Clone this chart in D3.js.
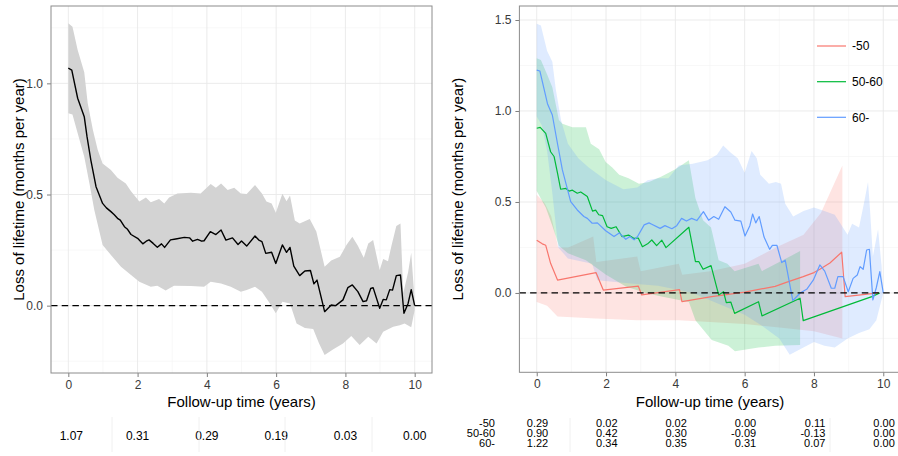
<!DOCTYPE html>
<html>
<head>
<meta charset="utf-8">
<script src="https://cdn.jsdelivr.net/npm/d3@7"></script>
<style>
    body { margin: 0; background: #fff; }
    svg text { font-family: "Liberation Sans", Arial, sans-serif; }
</style>
</head>
<body>
<svg id="chart" width="898" height="456"></svg>
<script>

// ---- data ----
const timeTicks = [0, 2, 4, 6, 8, 10];
const groups = ['-50', '50-60', '60-'];
const groupColors = ['#F8766D', '#00BA38', '#619CFF'];

// overall loss of lifetime, [time, value]
const allEst = [[0,1.068],[0.1,1.06],[0.27,0.933],[0.46,0.85],[0.54,0.76],[0.65,0.655],[0.8,0.535],[0.99,0.46],[1.1,0.44],[1.23,0.423],[1.32,0.41],[1.42,0.393],[1.5,0.385],[1.62,0.355],[1.7,0.345],[1.81,0.32],[2.0,0.303],[2.15,0.278],[2.25,0.29],[2.33,0.296],[2.45,0.28],[2.57,0.263],[2.69,0.278],[2.78,0.262],[2.95,0.296],[3.1,0.3],[3.35,0.307],[3.5,0.305],[3.59,0.29],[3.73,0.298],[3.85,0.29],[3.92,0.292],[4.1,0.333],[4.26,0.32],[4.41,0.34],[4.55,0.295],[4.74,0.305],[4.9,0.275],[5.0,0.291],[5.15,0.268],[5.39,0.313],[5.5,0.295],[5.59,0.288],[5.7,0.235],[5.87,0.24],[5.99,0.19],[6.18,0.273],[6.3,0.24],[6.4,0.262],[6.51,0.178],[6.68,0.135],[6.83,0.156],[6.99,0.158],[7.09,0.098],[7.18,0.115],[7.4,-0.027],[7.59,0.003],[7.72,0.0],[7.93,0.026],[8.07,0.081],[8.2,0.093],[8.36,0.063],[8.51,0.018],[8.61,0.022],[8.73,0.077],[8.8,0.081],[8.99,-0.012],[9.09,0.028],[9.18,0.026],[9.28,0.072],[9.36,0.07],[9.47,0.135],[9.59,0.138],[9.69,-0.034],[9.81,0.01],[9.9,0.072],[10.0,0.0]];
const allHi = [[0,1.27],[0.12,1.255],[0.27,1.15],[0.46,1.05],[0.56,0.91],[0.71,0.79],[0.85,0.7],[0.99,0.64],[1.23,0.61],[1.42,0.575],[1.66,0.55],[1.81,0.515],[2.05,0.468],[2.24,0.487],[2.38,0.465],[2.62,0.48],[2.77,0.46],[2.91,0.487],[3.15,0.505],[3.54,0.508],[3.82,0.505],[4.11,0.547],[4.26,0.53],[4.41,0.55],[4.6,0.52],[4.79,0.53],[4.98,0.505],[5.15,0.502],[5.39,0.543],[5.59,0.505],[5.72,0.468],[5.87,0.46],[5.99,0.418],[6.18,0.503],[6.3,0.47],[6.4,0.495],[6.54,0.383],[6.68,0.37],[6.97,0.39],[7.16,0.333],[7.4,0.175],[7.59,0.203],[7.84,0.22],[8.03,0.273],[8.2,0.31],[8.36,0.27],[8.53,0.215],[8.66,0.28],[8.8,0.295],[8.99,0.16],[9.09,0.21],[9.23,0.2],[9.33,0.27],[9.47,0.358],[9.59,0.37],[9.67,0.056],[9.81,0.15],[9.9,0.238],[10.0,0.02]];
const allLo = [[0,0.865],[0.12,0.86],[0.27,0.775],[0.46,0.67],[0.61,0.55],[0.75,0.43],[0.99,0.273],[1.23,0.228],[1.52,0.175],[1.81,0.138],[2.05,0.108],[2.38,0.085],[2.57,0.09],[2.81,0.068],[3.05,0.09],[3.54,0.088],[3.92,0.085],[4.11,0.108],[4.41,0.1],[4.69,0.085],[4.98,0.063],[5.15,0.07],[5.39,0.085],[5.59,0.063],[5.82,0.01],[5.99,-0.034],[6.18,0.018],[6.4,0.01],[6.59,-0.08],[6.83,-0.1],[7.07,-0.105],[7.24,-0.17],[7.4,-0.222],[7.64,-0.197],[7.93,-0.17],[8.17,-0.136],[8.41,-0.177],[8.66,-0.14],[8.9,-0.17],[9.09,-0.117],[9.38,-0.095],[9.57,-0.088],[9.71,-0.08],[9.9,-0.097],[10.0,-0.02]];

// by age group
const estU50 = [[0,0.29],[0.16,0.27],[0.26,0.262],[0.4,0.163],[0.6,0.071],[1.71,0.112],[1.92,0.016],[2.93,0.038],[3.03,-0.011],[4.12,0.018],[4.19,-0.048],[5.05,-0.02],[6.0,0.005],[6.88,0.036],[7.2,0.058],[7.69,0.09],[8.0,0.112],[8.17,0.13],[8.46,0.165],[8.8,0.224],[8.9,-0.02],[9.86,0.0]];
const hiU50 = [[0,0.54],[0.1,0.52],[0.24,0.49],[0.42,0.42],[0.62,0.25],[0.91,0.25],[1.63,0.31],[1.72,0.17],[2.9,0.2],[3.0,0.12],[4.1,0.16],[4.2,0.1],[5.0,0.12],[6.0,0.16],[6.9,0.25],[7.7,0.32],[8.2,0.44],[8.82,0.7]];
const loU50 = [[0,-0.05],[0.3,-0.07],[0.6,-0.13],[1.7,-0.14],[2.9,-0.15],[4.1,-0.15],[5.0,-0.16],[6.0,-0.17],[7.0,-0.19],[8.0,-0.21],[8.82,-0.25]];

const est5060 = [[0,0.905],[0.1,0.91],[0.26,0.877],[0.4,0.776],[0.5,0.75],[0.6,0.658],[0.69,0.57],[0.84,0.575],[0.93,0.56],[1.03,0.565],[1.17,0.548],[1.27,0.555],[1.46,0.53],[1.61,0.45],[1.7,0.455],[1.79,0.43],[1.9,0.425],[2.03,0.364],[2.15,0.355],[2.29,0.364],[2.46,0.31],[2.65,0.318],[2.8,0.3],[2.93,0.302],[3.05,0.254],[3.2,0.27],[3.32,0.291],[3.46,0.26],[3.61,0.29],[3.73,0.249],[4.39,0.361],[4.58,0.172],[4.68,0.172],[4.8,0.13],[5.03,0.15],[5.25,-0.011],[5.39,0.007],[5.47,-0.053],[5.6,-0.05],[5.71,-0.112],[6.4,-0.048],[6.5,-0.126],[7.6,-0.029],[7.69,-0.152],[9.67,-0.02],[9.9,0.0]];
const hi5060 = [[0,1.29],[0.12,1.28],[0.3,1.2],[0.45,1.13],[0.64,0.95],[0.74,0.93],[1.03,0.91],[1.42,0.91],[1.56,0.82],[1.8,0.79],[1.99,0.72],[2.18,0.69],[2.38,0.65],[2.65,0.63],[2.95,0.6],[3.24,0.61],[3.6,0.64],[4.0,0.68],[4.39,0.73],[4.58,0.52],[4.8,0.4],[5.03,0.36],[5.25,0.18],[5.5,0.16],[5.71,0.12],[6.4,0.16],[6.5,0.12],[7.0,0.17],[7.6,0.23]];
const lo5060 = [[0,0.56],[0.26,0.47],[0.45,0.37],[0.64,0.26],[0.9,0.218],[1.42,0.18],[2.0,0.1],[2.57,0.035],[3.15,0.0],[3.6,-0.02],[4.39,-0.05],[4.58,-0.15],[5.05,-0.258],[5.53,-0.29],[5.72,-0.32],[6.4,-0.3],[6.88,-0.29],[7.6,-0.286]];

const est60 = [[0,1.225],[0.09,1.22],[0.31,1.04],[0.45,0.978],[0.6,0.82],[0.74,0.676],[0.98,0.502],[1.17,0.456],[1.36,0.42],[1.46,0.41],[1.6,0.383],[1.75,0.385],[1.99,0.342],[2.23,0.31],[2.38,0.33],[2.57,0.295],[2.69,0.31],[2.81,0.292],[2.91,0.31],[3.1,0.374],[3.24,0.385],[3.32,0.378],[3.56,0.355],[3.7,0.37],[3.9,0.353],[4.04,0.37],[4.18,0.41],[4.32,0.395],[4.47,0.41],[4.62,0.398],[4.81,0.447],[4.96,0.4],[5.11,0.42],[5.25,0.405],[5.43,0.474],[5.6,0.445],[5.72,0.4],[5.89,0.395],[6.01,0.313],[6.15,0.37],[6.23,0.434],[6.32,0.385],[6.42,0.42],[6.56,0.307],[6.72,0.24],[6.8,0.262],[6.93,0.262],[7.07,0.167],[7.17,0.18],[7.39,-0.042],[7.6,0.0],[7.79,0.02],[7.98,0.07],[8.17,0.154],[8.31,0.12],[8.5,0.026],[8.6,0.026],[8.69,0.09],[8.84,0.09],[8.99,0.007],[9.13,0.08],[9.25,0.099],[9.33,0.145],[9.42,0.13],[9.52,0.236],[9.6,0.24],[9.7,-0.038],[9.8,0.03],[9.9,0.117],[10.0,0.0]];
const hi60 = [[0,1.48],[0.12,1.47],[0.3,1.33],[0.45,1.27],[0.55,1.12],[0.7,0.95],[0.9,0.82],[1.2,0.74],[1.5,0.69],[2.0,0.62],[2.5,0.57],[2.9,0.58],[3.2,0.62],[3.5,0.63],[3.8,0.63],[4.1,0.7],[4.5,0.71],[4.93,0.73],[5.2,0.76],[5.38,0.81],[5.6,0.77],[5.8,0.74],[6.0,0.66],[6.2,0.78],[6.35,0.74],[6.45,0.65],[6.7,0.6],[6.9,0.61],[7.05,0.6],[7.17,0.49],[7.4,0.42],[7.7,0.45],[8.0,0.47],[8.3,0.45],[8.6,0.43],[8.97,0.32],[9.1,0.38],[9.3,0.36],[9.45,0.5],[9.56,0.61],[9.62,0.45],[9.7,0.2],[9.85,0.35],[9.95,0.15],[10.0,0.0]];
const lo60 = [[0,0.97],[0.15,0.92],[0.3,0.78],[0.45,0.55],[0.62,0.25],[0.9,0.19],[1.6,0.16],[1.75,0.07],[2.8,0.05],[3.5,0.04],[4.0,0.02],[4.5,0.0],[5.0,-0.04],[5.5,-0.08],[6.0,-0.12],[6.5,-0.18],[7.0,-0.25],[7.3,-0.34],[7.6,-0.31],[8.0,-0.27],[8.3,-0.29],[8.6,-0.3],[8.97,-0.25],[9.3,-0.22],[9.6,-0.2],[9.8,-0.15],[10.0,0.0]];

// values printed under the x axis
const tableAll = ['1.07', '0.31', '0.29', '0.19', '0.03', '0.00'];
const tableU50 = ['0.29', '0.02', '0.02', '0.00', '0.11', '0.00'];
const table5060 = ['0.90', '0.42', '0.30', '-0.09', '-0.13', '0.00'];
const table60 = ['1.22', '0.34', '0.35', '0.31', '0.07', '0.00'];

const yTitle = 'Loss of lifetime (months per year)';
const xTitle = 'Follow-up time (years)';


const svg = d3.select('#chart');

function drawPanel(opt) {
    const x = d3.scaleLinear().domain([-0.5, 10.5]).range([opt.left, opt.right]);
    const y = d3.scaleLinear().domain(opt.yDomain).range([opt.bottom, opt.top]);
    const g = svg.append('g');

    g.append('rect')
        .attr('x', opt.left).attr('y', opt.top)
        .attr('width', opt.right - opt.left).attr('height', opt.bottom - opt.top)
        .attr('fill', '#fff');

    // minor grid
    g.selectAll('.minx').data([1, 3, 5, 7, 9]).enter().append('line')
        .attr('x1', d => x(d)).attr('x2', d => x(d))
        .attr('y1', opt.top).attr('y2', opt.bottom)
        .attr('stroke', '#f4f4f4').attr('stroke-width', 0.6);
    g.selectAll('.miny').data(opt.yMinor).enter().append('line')
        .attr('y1', d => y(d)).attr('y2', d => y(d))
        .attr('x1', opt.left).attr('x2', opt.right)
        .attr('stroke', '#f4f4f4').attr('stroke-width', 0.6);
    // major grid
    g.selectAll('.majx').data(timeTicks).enter().append('line')
        .attr('x1', d => x(d)).attr('x2', d => x(d))
        .attr('y1', opt.top).attr('y2', opt.bottom)
        .attr('stroke', '#e9e9e9').attr('stroke-width', 0.9);
    g.selectAll('.majy').data(opt.yTicks).enter().append('line')
        .attr('y1', d => y(d)).attr('y2', d => y(d))
        .attr('x1', opt.left).attr('x2', opt.right)
        .attr('stroke', '#e9e9e9').attr('stroke-width', 0.9);

    // axes
    const gx = g.append('g')
        .attr('transform', `translate(0, ${opt.bottom})`)
        .call(d3.axisBottom(x).tickValues(timeTicks).tickSize(4).tickPadding(3.5).tickFormat(d3.format('d')));
    const gy = g.append('g')
        .attr('transform', `translate(${opt.left}, 0)`)
        .call(d3.axisLeft(y).tickValues(opt.yTicks).tickSize(4).tickPadding(4).tickFormat(d3.format('.1f')));
    [gx, gy].forEach(a => {
        a.select('.domain').remove();
        a.selectAll('line').attr('stroke', '#7f7f7f');
        a.selectAll('text').attr('fill', '#3a3a3a')
            .style('font-size', '12px')
            .style('font-family', '"Liberation Sans", Arial, sans-serif');
    });

    // titles
    g.append('text')
        .attr('x', (opt.left + x(10.5)) / 2).attr('y', 406.5)
        .attr('text-anchor', 'middle').attr('font-size', 15).attr('fill', '#000')
        .text(xTitle);
    g.append('text')
        .attr('transform', `translate(${opt.yTitleX}, ${(opt.top + opt.bottom) / 2}) rotate(-90)`)
        .attr('text-anchor', 'middle').attr('font-size', 15).attr('fill', '#000')
        .text(yTitle);

    return { x, y, g };
}

function ribbon(p, hi, lo, fill, opacity) {
    const pts = hi.concat(lo.slice().reverse());
    p.g.append('path')
        .attr('d', d3.line().x(d => p.x(d[0])).y(d => p.y(d[1])).curve(d3.curveLinearClosed)(pts))
        .attr('fill', fill).attr('fill-opacity', opacity).attr('stroke', 'none');
}

function estLine(p, est, color, width) {
    p.g.append('path')
        .attr('d', d3.line().x(d => p.x(d[0])).y(d => p.y(d[1]))(est))
        .attr('fill', 'none').attr('stroke', color).attr('stroke-width', width)
        .attr('stroke-linejoin', 'round');
}

function zeroLine(p, x0, x1) {
    p.g.append('line')
        .attr('x1', x0).attr('x2', x1)
        .attr('y1', p.y(0)).attr('y2', p.y(0))
        .attr('stroke', '#000').attr('stroke-width', 1.2)
        .attr('stroke-dasharray', '6.5,4.2');
}

function border(opt) {
    svg.append('rect')
        .attr('x', opt.left).attr('y', opt.top)
        .attr('width', opt.right - opt.left).attr('height', opt.bottom - opt.top)
        .attr('fill', 'none').attr('stroke', '#8c8c8c').attr('stroke-width', 1);
}

// ---- left panel: all patients ----
const leftOpt = {
    left: 51, right: 432, top: 6, bottom: 373,
    yDomain: [-0.303, 1.348], yTicks: [0, 0.5, 1.0], yMinor: [-0.25, 0.25, 0.75, 1.25],
    yTitleX: 23.5
};
const pl = drawPanel(leftOpt);
ribbon(pl, allHi, allLo, '#d3d3d3', 1);
estLine(pl, allEst, '#000', 1.4);
zeroLine(pl, leftOpt.left, leftOpt.right);
border(leftOpt);

pl.g.selectAll('.tabAll').data(tableAll).enter().append('text')
    .attr('x', (d, i) => pl.x(timeTicks[i]) + (i === 0 ? 3 : 0))
    .attr('y', 439.5)
    .attr('text-anchor', 'middle').attr('font-size', 12).attr('fill', '#000')
    .text(d => d);
pl.g.selectAll('.sepAll').data([112, 199, 285, 372]).enter().append('line')
    .attr('x1', d => d).attr('x2', d => d).attr('y1', 417).attr('y2', 452)
    .attr('stroke', '#f0f0f0').attr('stroke-width', 1);

// ---- right panel: by age group ----
const rightOpt = {
    left: 519.4, right: 900.6, top: 6, bottom: 372.3,
    yDomain: [-0.436, 1.577], yTicks: [0, 0.5, 1.0, 1.5], yMinor: [-0.25, 0.25, 0.75, 1.25],
    yTitleX: 463
};
const pr = drawPanel(rightOpt);
const groupEst = [estU50, est5060, est60];
const groupHi = [hiU50, hi5060, hi60];
const groupLo = [loU50, lo5060, lo60];
groups.forEach((grp, i) => ribbon(pr, groupHi[i], groupLo[i], groupColors[i], 0.2));
groups.forEach((grp, i) => estLine(pr, groupEst[i], groupColors[i], 1.2));
zeroLine(pr, rightOpt.left, 898);
border(rightOpt);

// legend
const legY = [46, 81.7, 117.3];
groups.forEach((grp, i) => {
    pr.g.append('line')
        .attr('x1', 817).attr('x2', 846).attr('y1', legY[i]).attr('y2', legY[i])
        .attr('stroke', groupColors[i]).attr('stroke-width', 1.2);
    pr.g.append('text')
        .attr('x', 852).attr('y', legY[i]).attr('dy', '0.36em')
        .attr('font-size', 12).attr('fill', '#000')
        .text(grp);
});

// table under the right panel
const groupTables = [tableU50, table5060, table60];
const rowY = [427, 437, 447];
groups.forEach((grp, r) => {
    pr.g.append('text')
        .attr('x', 495).attr('y', rowY[r])
        .attr('text-anchor', 'end').attr('font-size', 11).attr('fill', '#000')
        .text(grp);
    pr.g.selectAll('.tab' + r).data(groupTables[r]).enter().append('text')
        .attr('x', (d, i) => pr.x(timeTicks[i]) + 11.5)
        .attr('y', rowY[r])
        .attr('text-anchor', 'end').attr('font-size', 11).attr('fill', '#000')
        .text(d => d);
});
pr.g.selectAll('.sepGrp').data([570, 830]).enter().append('line')
    .attr('x1', d => d).attr('x2', d => d).attr('y1', 418).attr('y2', 452)
    .attr('stroke', '#f0f0f0').attr('stroke-width', 1);

</script>
</body>
</html>
